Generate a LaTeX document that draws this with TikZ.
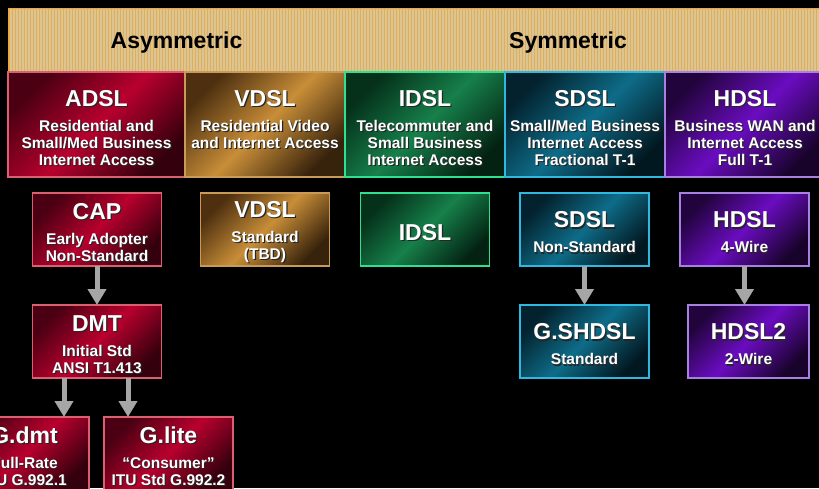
\documentclass[tikz,border=0pt]{standalone}
\usepackage{fontspec}
\setmainfont{Liberation Sans}
\usetikzlibrary{positioning,arrows.meta,patterns}

\definecolor{reddark}{HTML}{4A0012}
\definecolor{redlight}{HTML}{B8002E}
\definecolor{redline}{HTML}{D86070}
\definecolor{golddark}{HTML}{4E3010}
\definecolor{goldlight}{HTML}{C88E38}
\definecolor{goldline}{HTML}{C89C58}
\definecolor{greendark}{HTML}{05301A}
\definecolor{greenlight}{HTML}{16804A}
\definecolor{greenline}{HTML}{30E090}
\definecolor{tealdark}{HTML}{03222E}
\definecolor{teallight}{HTML}{0E6C88}
\definecolor{tealline}{HTML}{30B8E0}
\definecolor{purpledark}{HTML}{22043C}
\definecolor{purplelight}{HTML}{6A0CC0}
\definecolor{purpleline}{HTML}{A880E0}
\definecolor{bandtan}{HTML}{DCC594}
\definecolor{bandedge}{HTML}{F0A830}
\definecolor{bandgrain}{HTML}{E0AE58}
\definecolor{arrowgrey}{HTML}{A6A6A6}

\newcommand\subfont{\fontsize{15.5}{17}\selectfont\bfseries}
\newcommand\bandfont{\fontsize{23}{25}\selectfont\bfseries}
\newcommand\shd[1]{\leavevmode\rlap{\kern1.2pt\raisebox{-1.2pt}{\color{black!85}#1}}#1}
\newcommand\ttl[1]{{\fontsize{23}{25}\selectfont\shd{#1}}}
% title of a small box, a little taller so the text sits lower
\newcommand\lttl[1]{\rule{0pt}{23pt}\ttl{#1}}
% column heading: title on top, description lines under it
\newcommand\hd[2]{\parbox[c][97pt][t]{158pt}{\centering\rule{0pt}{30.5pt}\ttl{#1}\\[8pt]#2}}

\tikzset{
  tile/.style={rectangle, draw, line width=1.2pt, inner sep=0pt, outer sep=0pt,
    text=white, align=center, font=\subfont},
  redtile/.style={tile, draw=redline, top color=reddark, bottom color=reddark!70!black,
    middle color=redlight, shading angle=45},
  goldtile/.style={tile, draw=goldline, top color=golddark, bottom color=golddark!70!black,
    middle color=goldlight, shading angle=45},
  greentile/.style={tile, draw=greenline, top color=greendark, bottom color=greendark!70!black,
    middle color=greenlight, shading angle=45},
  tealtile/.style={tile, draw=tealline, top color=tealdark, bottom color=tealdark!70!black,
    middle color=teallight, shading angle=45},
  purpletile/.style={tile, draw=purpleline, top color=purpledark, bottom color=purpledark!70!black,
    middle color=purplelight, shading angle=45},
  colhead/.style={minimum height=105pt},
  lowbox/.style={minimum width=129pt, minimum height=73pt},
  band/.style={rectangle, draw=bandedge, line width=1pt, fill=bandtan, inner sep=0pt,
    outer sep=0pt, minimum height=64pt, text depth=0pt, font=\bandfont, text=black,
    postaction={pattern=vertical lines, pattern color=bandgrain}},
  flow/.style={draw=arrowgrey, line width=5pt, -{Triangle[width=18pt,length=16pt]}},
}

\begin{document}
\begin{tikzpicture}[x=1pt,y=-1pt]
  \fill[black] (0,0) rectangle (819,488);
  \useasboundingbox (0,0) rectangle (819,488);

  % top band
  \node (asym) [band, minimum width=337pt] at (176.5,40) {Asymmetric};
  \node (sym) [band, minimum width=480pt, right=0pt of asym] {Symmetric\hspace*{34pt}};

  % column headings
  \node (adsl) [redtile, colhead, minimum width=177pt] at (96.5,124.5)
    {\hd{ADSL}{\shd{Residential and}\\\shd{Small/Med Business}\\\shd{Internet Access}}};
  \node (vdsl) [goldtile, colhead, minimum width=160pt, right=0pt of adsl]
    {\hd{VDSL}{\shd{Residential Video}\\\shd{and Internet Access}}};
  \node (idsl) [greentile, colhead, minimum width=160pt, right=0pt of vdsl]
    {\hd{IDSL}{\shd{Telecommuter and}\\\shd{Small Business}\\\shd{Internet Access}}};
  \node (sdsl) [tealtile, colhead, minimum width=160pt, right=0pt of idsl]
    {\hd{SDSL}{\shd{Small/Med Business}\\\shd{Internet Access}\\\shd{Fractional T-1}}};
  \node (hdsl) [purpletile, colhead, minimum width=160pt, right=0pt of sdsl]
    {\hd{HDSL}{\shd{Business WAN and}\\\shd{Internet Access}\\\shd{Full T-1}}};

  % line codes and standards
  \node (cap) [redtile, lowbox] at (97,229.5)
    {\lttl{CAP}\\[8pt]\shd{Early Adopter}\\\shd{Non-Standard}};
  \node (dmt) [redtile, lowbox, below=39pt of cap]
    {\lttl{DMT}\\[8pt]\shd{Initial Std}\\\shd{ANSI T1.413}};
  \node (gdmt) [redtile, lowbox] at (24.5,453.5)
    {\lttl{G.dmt}\\[8pt]\shd{Full-Rate}\\\shd{ITU G.992.1}};
  \node (glite) [redtile, lowbox] at (168.5,453.5)
    {\lttl{G.lite}\\[8pt]\shd{“Consumer”}\\\shd{ITU Std G.992.2}};
  \node (vdslstd) [goldtile, lowbox] at (265,229.5)
    {\lttl{VDSL}\\[8pt]\shd{Standard}\\\shd{(TBD)}};
  \node (idslbox) [greentile, lowbox] at (425,229.5) {\lttl{IDSL}};
  \node (sdslbox) [tealtile, lowbox] at (584.5,229.5)
    {\lttl{SDSL}\\[8pt]\shd{Non-Standard}};
  \node (gshdsl) [tealtile, lowbox, below=39pt of sdslbox]
    {\lttl{G.SHDSL}\\[8pt]\shd{Standard}};
  \node (hdslbox) [purpletile, lowbox] at (744.5,229.5)
    {\lttl{HDSL}\\[8pt]\shd{4-Wire}};
  \node (hdsltwo) [purpletile, lowbox, minimum width=121pt] at (748.5,341.5)
    {\lttl{HDSL2}\\[8pt]\shd{2-Wire}};

  \draw[flow] (cap) -- (dmt);
  \draw[flow] ([xshift=-33pt]dmt.south) -- ([xshift=-33pt]dmt.south |- gdmt.north);
  \draw[flow] ([xshift=31pt]dmt.south) -- ([xshift=31pt]dmt.south |- glite.north);
  \draw[flow] (sdslbox) -- (gshdsl);
  \draw[flow] (hdslbox.south) -- (hdslbox.south |- hdsltwo.north);
\end{tikzpicture}
\end{document}
